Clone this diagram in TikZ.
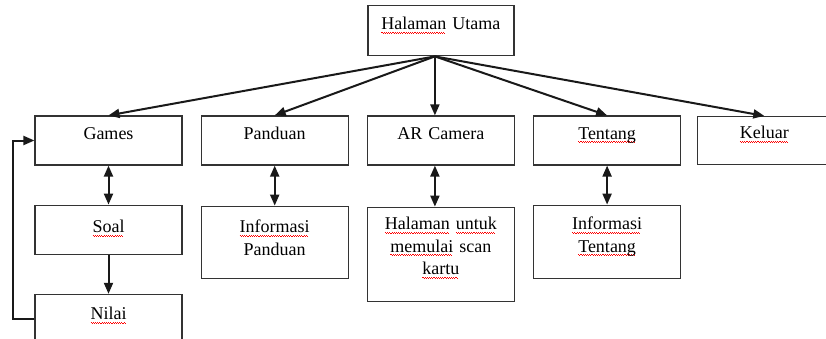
\documentclass[tikz,border=0pt]{standalone}
\usepackage{fontspec}
\setmainfont{Liberation Serif}
\usepackage{tikz}
\usetikzlibrary{positioning, arrows.meta}
\newcommand{\salah}[1]{\leavevmode\setbox0\hbox{#1}\rlap{\textcolor{red}{\leaders\hbox{\vrule width 1.1pt height -2.4pt depth 3.4pt\vrule width 1.1pt height -3.3pt depth 4.3pt}\hskip\wd0}}\box0\relax}
\tikzset{kotak/.style={rectangle,draw=black!80,line width=1.2pt,text width=140pt,
		inner xsep=3.5pt,inner ysep=0pt,align=center,font=\fontsize{18}{22.8}\selectfont},
	tinggi/.style 2 args={text height=#1pt,text depth=#2pt},
	panah/.style={line width=2pt,draw=black!90,-{Triangle[length=11pt,width=9pt]}},
	duaarah/.style={line width=2pt,draw=black!90,
		{Triangle[length=11pt,width=9pt]}-{Triangle[length=11pt,width=9pt]}} }
\begin{document}
\begin{tikzpicture}
	[x=1pt, y=-1pt,
	 node distance=18pt]
  \useasboundingbox (0,0) rectangle (826,338);

  % baris menu
  \node (games) [kotak,tinggi={23}{26}] at (108.5,140.5) {Games};
  \node (panduan) [kotak,tinggi={23}{26},right=of games] {Panduan};
  \node (arcam) [kotak,tinggi={23}{26},right=of panduan] {AR Camera};
  \node (tentang) [kotak,tinggi={23}{26},right=of arcam] {\salah{Tentang}};
  \node (keluar) [kotak,tinggi={22}{26},text width=126pt,right=16pt of tentang] {\salah{Keluar}};
  \node (utama) [kotak,tinggi={24}{26},text width=139pt,above=59pt of arcam] {\salah{Halaman} Utama};

  % isi menu
  \node (soal) [kotak,tinggi={27}{22},below=39pt of games] {\salah{Soal}};
  \node (nilai) [kotak,tinggi={25}{24},below=39pt of soal] {\salah{Nilai}};
  \node (infop) [kotak,tinggi={26}{46},below=40pt of panduan] {\salah{Informasi}\\Panduan};
  \node (scan) [kotak,tinggi={22}{72},below=41pt of arcam]
  	{\salah{Halaman} \salah{untuk}\\\salah{memulai} scan\\\salah{kartu}};
  \node (infot) [kotak,tinggi={24}{49},below=39pt of tentang] {\salah{Informasi}\\\salah{Tentang}};

  \draw [panah] ([xshift=-6pt]utama.south) -- (games.north);
  \draw [panah] ([xshift=-6pt]utama.south) -- (panduan.north);
  \draw [panah] ([xshift=-6pt]utama.south) -- ([xshift=-6pt]arcam.north);
  \draw [panah] ([xshift=-6pt]utama.south) -- (tentang.north);
  \draw [panah] ([xshift=-6pt]utama.south) -- (keluar.north);

  \draw [duaarah] (games) -- (soal);
  \draw [duaarah] (panduan) -- (infop);
  \draw [duaarah] ([xshift=-6pt]arcam.south) -- ([xshift=-6pt]scan.north);
  \draw [duaarah] (tentang) -- (infot);
  \draw [panah] (soal) -- (nilai);
  \draw [panah] (nilai.west) -- ++(-21,0) |- (games.west);
\end{tikzpicture}
\end{document}
